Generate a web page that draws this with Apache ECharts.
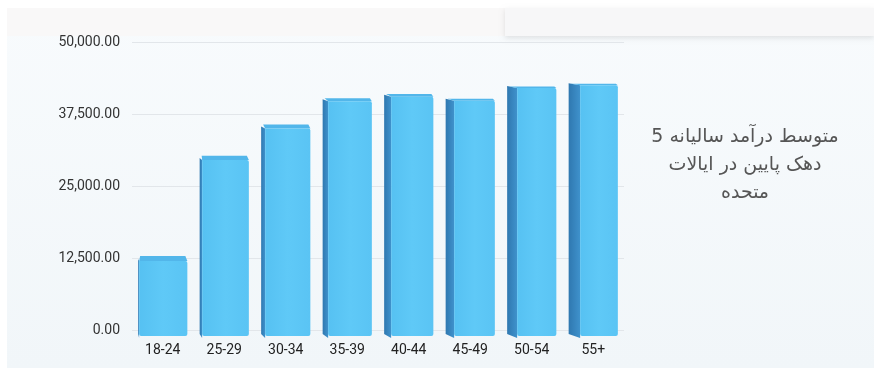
<!DOCTYPE html>
<html>
<head>
<meta charset="utf-8">
<script src="https://cdn.jsdelivr.net/npm/echarts@6/dist/echarts.min.js"></script>
<style>
html,body{margin:0;padding:0;background:#ffffff;}
#chart{width:874px;height:374px;}
</style>
</head>
<body>
<div id="chart"></div>
<script>
// Data
var categories = ['18-24', '25-29', '30-34', '35-39', '40-44', '45-49', '50-54', '55+'];
var incomeValues = [12000, 29500, 35000, 39700, 40500, 39800, 42000, 42500];
var yTicks = [0, 12500, 25000, 37500, 50000];
var titleLines = ['متوسط درآمد سالیانه 5', 'دهک پایین در ایالات', 'متحده'];

var chart = echarts.init(document.getElementById('chart'), null, {renderer: 'canvas'});

function fmt(v) {
  return Number(v).toLocaleString('en-US', {minimumFractionDigits: 2, maximumFractionDigits: 2});
}

var seriesData = incomeValues.map(function (v, i) { return [i, v]; });

var option = {
  backgroundColor: '#ffffff',
  animation: false,
  graphic: [
    {type: 'rect', z: -10, shape: {x: 7, y: 8, width: 867, height: 360},
      style: {fill: new echarts.graphic.LinearGradient(0, 0, 0, 1, [
        {offset: 0, color: '#f8fbfd'}, {offset: 1, color: '#f1f6f9'}])}},
    {type: 'rect', z: -9, shape: {x: 7, y: 8, width: 867, height: 28},
      style: {fill: '#f9f8f8'}},
    {type: 'rect', z: -8, shape: {x: 505, y: 8, width: 369, height: 28},
      style: {fill: '#f7f7f8', shadowBlur: 5, shadowColor: 'rgba(0,0,0,0.10)', shadowOffsetY: 2}}
  ],
  title: {
    text: titleLines.join('\n'),
    left: 740,
    top: 118,
    textAlign: 'center',
    textStyle: {
      fontFamily: '"DejaVu Sans", Roboto, sans-serif',
      fontSize: 19,
      fontWeight: 'normal',
      color: '#555555',
      lineHeight: 28
    }
  },
  grid: {left: 132, right: 250, top: 42, bottom: 44, containLabel: false},
  xAxis: {
    type: 'category',
    data: categories,
    axisLine: {show: false},
    axisTick: {show: false},
    axisLabel: {
      margin: 13,
      fontFamily: 'Roboto, sans-serif',
      fontSize: 14,
      color: '#222222'
    }
  },
  yAxis: {
    type: 'value',
    min: 0,
    max: 50000,
    interval: 12500,
    axisLine: {show: false},
    axisTick: {show: false},
    axisLabel: {
      margin: 12,
      fontFamily: 'Roboto, sans-serif',
      fontSize: 14,
      color: '#333333',
      formatter: function (v) { return fmt(v); }
    },
    splitLine: {lineStyle: {color: '#e2e6ea', width: 1}}
  },
  series: [{
    type: 'custom',
    data: seriesData,
    encode: {x: 0, y: 1},
    renderItem: function (params, api) {
      var i = params.dataIndex;
      var base = api.coord([api.value(0), 0]);
      var top = api.coord([api.value(0), api.value(1)]);
      var w = api.size([1, 0])[0] * 0.8;
      var side = 1 + i * 1.5;
      var cap = Math.max(1.5, 5 - i * 0.6);
      var xl = base[0] - w / 2;
      var xr = base[0] + w / 2;
      var fx = xl + side;
      var yb = base[1] + 6;
      var yt = top[1];
      return {
        type: 'group',
        children: [
          {type: 'polygon', shape: {points: [[xl, yt - 2], [fx, yt], [fx, yb + 2], [xl, yb - 2]]},
            style: {fill: new echarts.graphic.LinearGradient(0, 0, 1, 0, [
              {offset: 0, color: '#2f78b0'}, {offset: 1, color: '#3f92cc'}])}},
          {type: 'polygon', shape: {points: [[xl + 2, yt - cap], [xr - 2, yt - cap], [xr, yt], [fx, yt]]},
            style: {fill: '#52b6ea'}},
          {type: 'rect', shape: {x: fx, y: yt, width: xr - fx, height: yb - yt, r: [0, 2, 2, 2]},
            style: {fill: new echarts.graphic.LinearGradient(0, 0, 1, 0, [
              {offset: 0, color: '#56c1f2'}, {offset: 0.5, color: '#5fc9f7'}, {offset: 1, color: '#5ac4f4'}])}}
        ]
      };
    }
  }]
};

chart.setOption(option);
</script>
</body>
</html>
